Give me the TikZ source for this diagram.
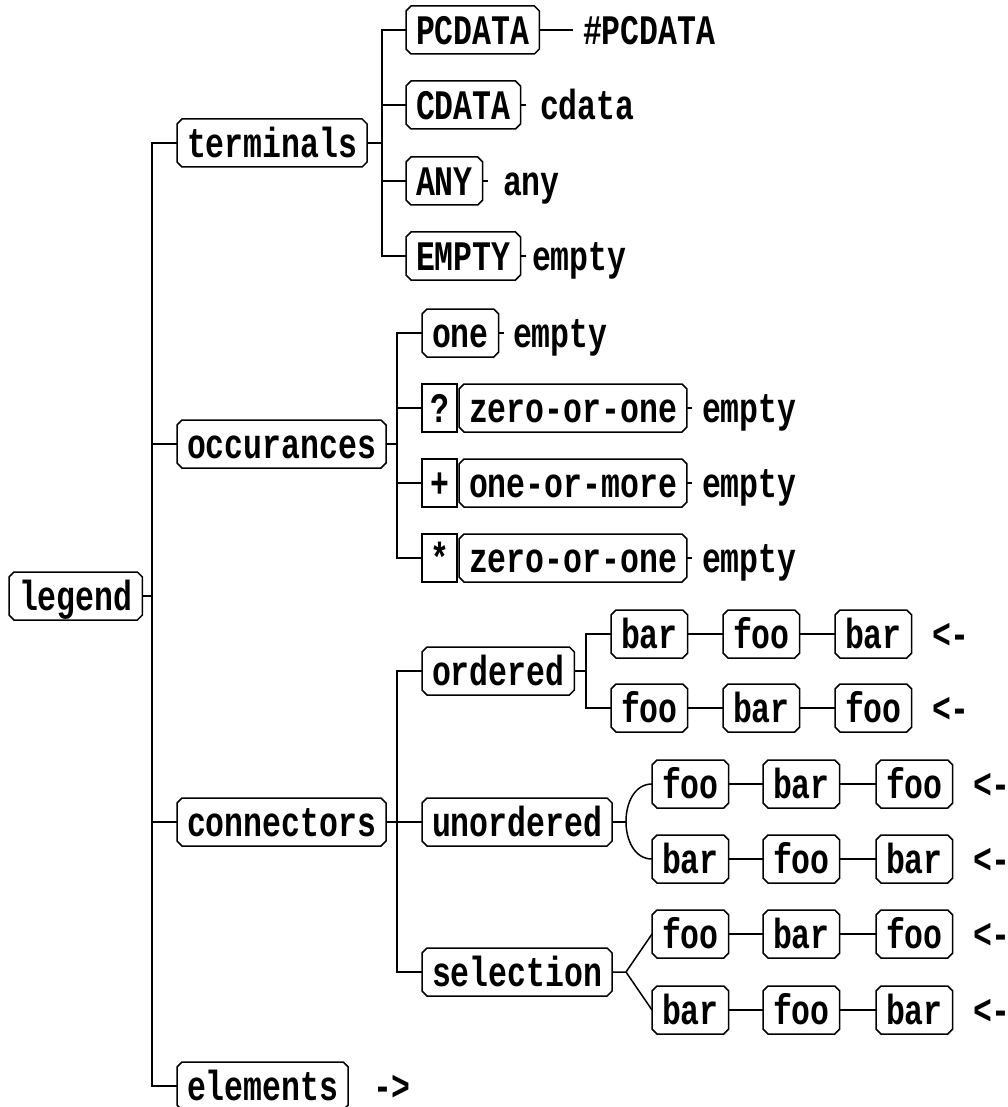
\documentclass[tikz,border=0pt]{standalone}
\usepackage{fontspec}
\newfontfamily\dtdfont{Liberation Mono}[FakeStretch=0.75]
\tikzset{
  base/.style={font=\dtdfont\bfseries\fontsize{42pt}{42pt}\selectfont, text height=29pt, text depth=0pt, outer sep=0pt},
  box/.style={base, inner xsep=10pt, inner ysep=0pt, minimum height=48pt, anchor=west},
  sq/.style={base, draw, line width=1.5pt, inner sep=0pt, minimum width=35pt, minimum height=48pt, anchor=west},
  lab/.style={base, inner sep=0pt, anchor=west},
  wire/.style={line width=1.5pt, line join=miter},
}
\begin{document}
\begin{tikzpicture}[x=1pt,y=-1pt]
\useasboundingbox (0,0) rectangle (1008,1107);
% level 0 / 1
\node[box] (legend) at (9,596) {legend};
\node[box] (terminals) at (177,143) {terminals};
\node[box] (occ) at (177,444) {occurances};
\node[box] (conn) at (177,822) {connectors};
\node[box] (elem) at (177,1086) {elements};
\node[lab] (larrow) at (373,1086) {->};
% terminals
\node[box] (pcdata) at (406,30) {PCDATA};
\node[box] (cdata) at (406,105) {CDATA};
\node[box] (any) at (406,181) {ANY};
\node[box] (emptyT) at (406,256) {EMPTY};
\node[lab] (lpc) at (583,30) {\#PCDATA};
\node[lab] (lcd) at (540,105) {cdata};
\node[lab] (lany) at (503,181) {any};
\node[lab] (lemT) at (532,256) {empty};
% occurances
\node[box] (one) at (422,333) {one};
\node[lab] (lone) at (513,333) {empty};
\node[sq] (qm) at (422,408) {?};
\node[box] (zoo1) at (459,408) {zero-or-one};
\node[lab] (lzoo1) at (702,408) {empty};
\node[sq] (pl) at (422,483) {+};
\node[box] (oom) at (459,483) {one-or-more};
\node[lab] (loom) at (702,483) {empty};
\node[sq] (st) at (422,558) {*};
\node[box] (zoo2) at (459,558) {zero-or-one};
\node[lab] (lzoo2) at (702,558) {empty};
% connectors
\node[box] (ord) at (422,671) {ordered};
\node[box] (unord) at (422,822) {unordered};
\node[box] (sel) at (422,972) {selection};
% ordered rows
\node[box] (o11) at (611,634) {bar};
\node[box] (o12) at (723,634) {foo};
\node[box] (o13) at (835,634) {bar};
\node[lab] (lo1) at (932,634) {<-};
\node[box] (o21) at (611,708) {foo};
\node[box] (o22) at (723,708) {bar};
\node[box] (o23) at (835,708) {foo};
\node[lab] (lo2) at (932,708) {<-};
% unordered rows
\node[box] (u11) at (652,784) {foo};
\node[box] (u12) at (763,784) {bar};
\node[box] (u13) at (876,784) {foo};
\node[lab] (lu1) at (973,784) {<-};
\node[box] (u21) at (652,859) {bar};
\node[box] (u22) at (763,859) {foo};
\node[box] (u23) at (876,859) {bar};
\node[lab] (lu2) at (973,859) {<-};
% selection rows
\node[box] (s11) at (652,934) {foo};
\node[box] (s12) at (763,934) {bar};
\node[box] (s13) at (876,934) {foo};
\node[lab] (ls1) at (973,934) {<-};
\node[box] (s21) at (652,1010) {bar};
\node[box] (s22) at (763,1010) {foo};
\node[box] (s23) at (876,1010) {bar};
\node[lab] (ls2) at (973,1010) {<-};

% chamfered outlines
\foreach \n in {legend,terminals,occ,conn,elem,pcdata,cdata,any,emptyT,one,zoo1,oom,zoo2,ord,unord,sel,o11,o12,o13,o21,o22,o23,u11,u12,u13,u21,u22,u23,s11,s12,s13,s21,s22,s23}{
  \draw[wire] ([xshift=5pt]\n.north west) -- ([xshift=-5pt]\n.north east) -- ([yshift=-5pt]\n.north east) -- ([yshift=5pt]\n.south east) -- ([xshift=-5pt]\n.south east) -- ([xshift=5pt]\n.south west) -- ([yshift=5pt]\n.south west) -- ([yshift=-5pt]\n.north west) -- cycle;
}

% trunk
\coordinate (trunk) at (152,0);
\draw[wire] (terminals.west) -| (trunk |- elem.west) -- (elem.west);
\draw[wire] (legend.east) -- (trunk |- legend.east);
\draw[wire] (occ.west) -- (trunk |- occ.west);
\draw[wire] (conn.west) -- (trunk |- conn.west);

% terminals branch
\coordinate (tx) at (382,0);
\draw[wire] (pcdata.west) -| (tx |- emptyT.west) -- (emptyT.west);
\draw[wire] (terminals.east) -- (tx |- terminals.east);
\draw[wire] (cdata.west) -- (tx |- cdata.west);
\draw[wire] (any.west) -- (tx |- any.west);
\draw[wire] (pcdata.east) -- ([xshift=-10pt]lpc.west);
\draw[wire] (cdata.east) -- ++(5,0) coordinate (tcd);
\draw[wire] (any.east) -- ++(5,0) coordinate (tany);
\draw[wire] (emptyT.east) -- ++(5,0) coordinate (temT);

% occurances branch
\coordinate (ox) at (397,0);
\draw[wire] (one.west) -| (ox |- st.west) -- (st.west);
\draw[wire] (occ.east) -- (ox |- occ.east);
\draw[wire] (qm.west) -- (ox |- qm.west);
\draw[wire] (pl.west) -- (ox |- pl.west);
\draw[wire] (one.east) -- ++(5,0) coordinate (tone);
\draw[wire] (zoo1.east) -- ++(5,0) coordinate (tzoo1);
\draw[wire] (oom.east) -- ++(5,0) coordinate (toom);
\draw[wire] (zoo2.east) -- ++(5,0) coordinate (tzoo2);

% connectors branch
\coordinate (cx) at (397,0);
\draw[wire] (ord.west) -| (cx |- sel.west) -- (sel.west);
\draw[wire] (conn.east) -- (cx |- conn.east);
\draw[wire] (unord.west) -- (cx |- unord.west);

% ordered
\coordinate (ordx) at (586,0);
\draw[wire] (o11.west) -| (ordx |- o21.west) -- (o21.west);
\draw[wire] (ord.east) -- (ordx |- ord.east);
\draw[wire] (o11) -- (o12) -- (o13);
\draw[wire] (o21) -- (o22) -- (o23);

% unordered
\coordinate (ufork) at (626,822);
\draw[wire] (unord.east) -- (ufork);
\draw[wire] (u11.west) .. controls +(-34.7,0) and +(-34.7,0) .. (u21.west);
\draw[wire] (u11) -- (u12) -- (u13);
\draw[wire] (u21) -- (u22) -- (u23);

% selection
\coordinate (sfork) at (626,972);
\draw[wire] (sel.east) -- (sfork) -- (s11.west);
\draw[wire] (sfork) -- (s21.west);
\draw[wire] (s11) -- (s12) -- (s13);
\draw[wire] (s21) -- (s22) -- (s23);
\end{tikzpicture}
\end{document}
